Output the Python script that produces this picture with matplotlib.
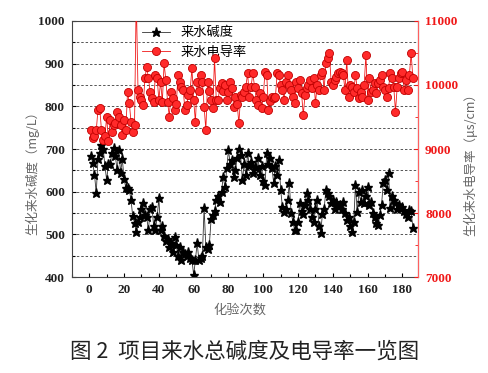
"""Influent alkalinity and conductivity per test (Fig. 2)."""

import matplotlib

matplotlib.use("Agg")
import matplotlib.pyplot as plt
import numpy as np
from matplotlib.ticker import MultipleLocator

plt.rcParams["font.family"] = ["Noto Sans CJK SC", "DejaVu Sans"]

# alkalinity, mg/L (left axis), test no. 1..186
ALKALINITY = [
    683, 667, 640, 597, 676, 690, 710, 701, 660, 627,
    665, 665, 690, 703, 683, 650, 697, 645, 676, 630,
    609, 609, 605, 580, 542, 527, 505, 530, 540, 560,
    574, 545, 540, 510, 560, 565, 520, 510, 540, 585,
    510, 520, 497, 485, 490, 470, 480, 460, 495, 475,
    450, 470, 440, 460, 455, 450, 460, 445, 440, 405,
    440, 480, 440, 445, 450, 562, 470, 465, 475, 535,
    545, 555, 580, 590, 575, 600, 635, 610, 655, 698,
    665, 675, 635, 650, 680, 700, 685, 627, 665, 640,
    690, 660, 670, 645, 658, 655, 680, 640, 660, 625,
    615, 690, 665, 680, 655, 620, 660, 640, 675, 605,
    565, 553, 560, 580, 620, 550, 530, 511, 511, 530,
    574, 555, 548, 570, 597, 580, 560, 540, 529, 560,
    580, 520, 503, 548, 560, 604, 597, 590, 574, 580,
    560, 577, 566, 570, 560, 577, 550, 534, 540, 520,
    506, 530, 616, 553, 600, 577, 604, 574, 590, 612,
    570, 577, 550, 540, 527, 521, 545, 570, 620, 627,
    604, 645, 561, 590, 580, 574, 560, 570, 561, 565,
    554, 547, 540, 558, 554, 515,
]

# conductivity, uS/cm (right axis)
CONDUCTIVITY = [
    9297, 9172, 9200, 9290, 9610, 9640, 9297, 9140, 9200, 9505,
    9125, 9450, 9270, 9380, 9400, 9583, 9505, 9380, 9220, 9450,
    9297, 9896, 9720, 9420, 9270, 9380, 11400, 9922, 9818, 9766,
    9688, 10104, 10286, 10104, 9896, 9792, 9740, 10156, 10104, 9766,
    10052, 9740, 10339, 10078, 9740, 9505, 9896, 9792, 9610, 9700,
    10156, 10052, 9974, 9922, 9610, 9688, 9850, 9922, 10260, 9766,
    9420, 10052, 9900, 10156, 10052, 9662, 9297, 10052, 9900, 9766,
    9636, 10417, 9766, 9766, 9948, 10026, 9900, 10000, 9766, 9896,
    10052, 9948, 9662, 9818, 9700, 9400, 9844, 9818, 9896, 9974,
    10182, 9818, 9974, 10182, 9974, 9766, 9688, 9870, 9636, 9818,
    10208, 10156, 9610, 9750, 9818, 9800, 9818, 10182, 10156, 10000,
    9922, 9766, 10052, 10156, 10000, 9922, 9818, 9714, 10052, 9950,
    10078, 9870, 9532, 9844, 9950, 10000, 10078, 9950, 10104, 9714,
    10000, 9922, 10156, 10208, 9922, 10339, 10417, 10495, 10052, 10000,
    10078, 10120, 10182, 10208, 10182, 10156, 9922, 10391, 9818, 10000,
    9974, 9896, 10156, 9948, 9792, 9896, 9818, 10000, 10469, 9766,
    10104, 9896, 9922, 10026, 9870, 10026, 10078, 10156, 9974, 9922,
    9818, 9948, 10182, 10104, 9974, 9584, 9974, 10104, 10182, 10208,
    9922, 10078, 9922, 10156, 10495, 10104,
]

TEST_NO = np.arange(1, len(ALKALINITY) + 1)

RED = "#f01818"
SERIF = "Liberation Serif"
LABEL_GRAY = "#666666"


def main():
    fig = plt.figure(figsize=(4.89, 3.73), dpi=100)
    ax = fig.add_axes([0.147, 0.257, 0.708, 0.687])
    ax2 = ax.twinx()

    (l1,) = ax.plot(TEST_NO, ALKALINITY, color="#333333", lw=0.6, marker="*",
                    ms=6.5, mfc="black", mec="black", label="来水碱度")
    (l2,) = ax2.plot(TEST_NO, CONDUCTIVITY, color=RED, lw=0.6, marker="o",
                     ms=5.8, mfc="#ff2a2a", mec="#c00000", mew=0.6,
                     label="来水电导率")

    ax.set_xlim(-10, 189)
    ax.set_ylim(400, 1000)
    ax2.set_ylim(7000, 11000)

    ax.xaxis.set_major_locator(MultipleLocator(20))
    ax.xaxis.set_minor_locator(MultipleLocator(10))
    ax.yaxis.set_major_locator(MultipleLocator(100))
    ax.yaxis.set_minor_locator(MultipleLocator(50))
    ax2.yaxis.set_major_locator(MultipleLocator(1000))
    ax2.yaxis.set_minor_locator(MultipleLocator(500))

    ax.grid(True, which="both", axis="y", ls=(0, (2.5, 2)), color="#555555", lw=0.7)
    ax.tick_params(which="both", direction="in", length=3, width=0.8, pad=5)
    ax.tick_params(which="minor", length=2)
    ax.tick_params(axis="x", which="both", top=False)
    ax2.tick_params(which="both", direction="in", length=3, colors=RED, pad=5)
    ax2.tick_params(which="minor", length=2)

    for lab in ax.get_xticklabels() + ax.get_yticklabels():
        lab.set_fontfamily(SERIF)
        lab.set_fontweight("bold")
        lab.set_fontsize(9.5)
        lab.set_color("#222222")
    for lab in ax2.get_yticklabels():
        lab.set_fontfamily(SERIF)
        lab.set_fontweight("bold")
        lab.set_fontsize(9.5)
        lab.set_color(RED)

    for sp in ("left", "bottom", "top"):
        ax.spines[sp].set_color("#444444")
    ax2.spines["right"].set_color("#ff6060")
    ax2.spines["left"].set_visible(False)
    ax2.spines["top"].set_visible(False)
    ax2.spines["bottom"].set_visible(False)

    ax.set_ylabel("生化来水碱度（mg/L）", fontsize=9, color=LABEL_GRAY)
    ax.yaxis.set_label_coords(-0.095, 0.42)
    ax2.set_ylabel("生化来水电导率（μs/cm）", fontsize=9, color=LABEL_GRAY)
    ax2.yaxis.set_label_coords(1.13, 0.45)
    ax.set_xlabel("化验次数", fontsize=9.5, color=LABEL_GRAY)
    ax.xaxis.set_label_coords(0.486, -0.105)

    ax.legend([l1, l2], ["来水碱度", "来水电导率"], loc="upper left",
              bbox_to_anchor=(0.188, 1.0), frameon=False, fontsize=9.5,
              handlelength=2.1, borderaxespad=0.0, labelspacing=0.5)

    fig.text(0.5, 0.056, "图 2  项目来水总碱度及电导率一览图", ha="center",
             va="center", fontsize=15.5, color="#222222")

    fig.savefig("out.png", dpi=100)


if __name__ == "__main__":
    main()
